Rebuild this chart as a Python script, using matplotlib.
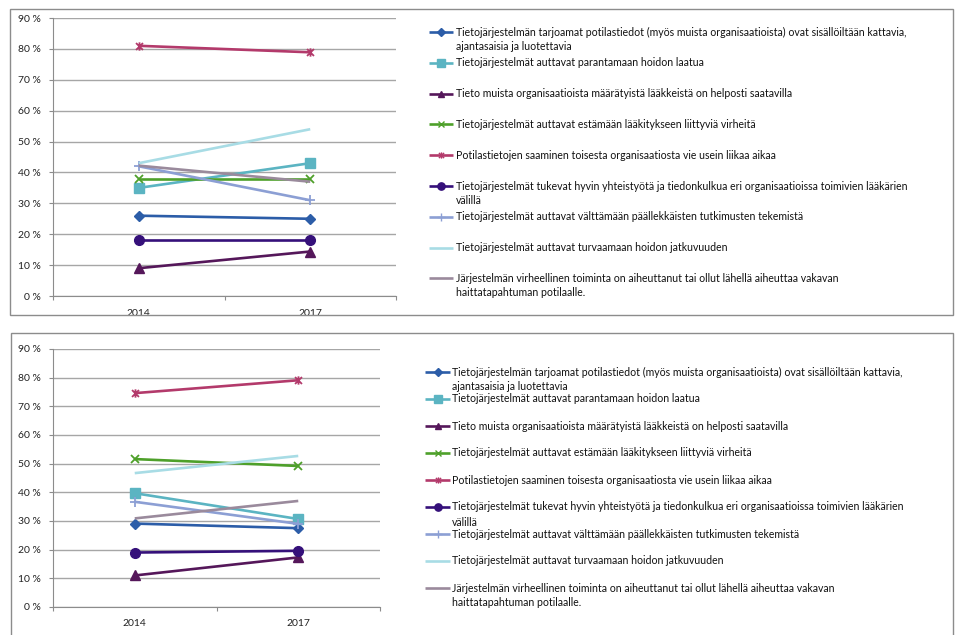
import matplotlib
matplotlib.use("Agg")
import matplotlib.pyplot as plt
from matplotlib.lines import Line2D
from matplotlib.patches import Rectangle
from matplotlib.path import Path
from matplotlib.ticker import FuncFormatter, MultipleLocator

plt.rcParams['font.family'] = ['Lato', 'DejaVu Sans']

years = ['2014', '2017']

labels = [
    "Tietojärjestelmän tarjoamat potilastiedot (myös muista organisaatioista) ovat sisällöiltään kattavia,\najantasaisia ja luotettavia",
    "Tietojärjestelmät auttavat parantamaan hoidon laatua",
    "Tieto muista organisaatioista määrätyistä lääkkeistä on helposti saatavilla",
    "Tietojärjestelmät auttavat estämään lääkitykseen liittyviä virheitä",
    "Potilastietojen saaminen toisesta organisaatiosta vie usein liikaa aikaa",
    "Tietojärjestelmät tukevat hyvin yhteistyötä ja tiedonkulkua eri organisaatioissa toimivien lääkärien\nvälillä",
    "Tietojärjestelmät auttavat välttämään päällekkäisten tutkimusten tekemistä",
    "Tietojärjestelmät auttavat turvaamaan hoidon jatkuvuuden",
    "Järjestelmän virheellinen toiminta on aiheuttanut tai ollut lähellä aiheuttaa vakavan\nhaittatapahtuman potilaalle.",
]

# values in percent, (2014, 2017)
top_values = [
    [26.0, 25.0],
    [35.0, 43.0],
    [9.0, 14.4],
    [38.0, 38.0],
    [81.0, 78.9],
    [18.0, 18.0],
    [42.0, 31.0],
    [43.0, 54.0],
    [42.2, 37.0],
]

bottom_values = [
    [29.1, 27.5],
    [39.7, 30.7],
    [11.0, 17.3],
    [51.6, 49.2],
    [74.6, 79.1],
    [19.0, 19.6],
    [36.7, 29.0],
    [46.7, 52.7],
    [30.9, 37.0],
]

colors = ['#2C5DA8', '#5BB4C2', '#55175A', '#4EA02A', '#B33A6B',
          '#35107A', '#8C9FD4', '#A8DCE5', '#9A8A9C']

# Excel style "star": x with a vertical bar
star = Path([(-1, -1), (1, 1), (-1, 1), (1, -1), (0, -1.2), (0, 1.2)],
            [Path.MOVETO, Path.LINETO, Path.MOVETO, Path.LINETO,
             Path.MOVETO, Path.LINETO])

markers = ['D', 's', '^', 'x', star, 'o', '+', None, None]
msizes = [5, 7, 6.5, 6, 6, 7, 7, 0, 0]

W, H = 959, 635
fig = plt.figure(figsize=(W / 100, H / 100), dpi=100)


def fx(px):
    return px / W


def fy(py):
    return 1 - py / H


def draw_chart(values, ax_box, frame, leg_x, leg_y0, leg_step, wrap_step):
    l, t, r, b = ax_box
    ax = fig.add_axes([fx(l), fy(b), fx(r - l), (b - t) / H])
    x = range(len(years))
    for vals, c, m, ms in zip(values, colors, markers, msizes):
        mew = 1.3 if m in ('x', '+') or m is star else 1
        ax.plot(x, [v / 100 for v in vals], color=c, lw=1.9, marker=m,
                markersize=ms, markeredgewidth=mew, markerfacecolor=c,
                markeredgecolor=c, solid_capstyle='butt')
    ax.set_xlim(-0.5, 1.5)
    ax.set_ylim(0, 0.9)
    ax.yaxis.set_major_locator(MultipleLocator(0.1))
    ax.yaxis.set_major_formatter(FuncFormatter(lambda v, p: f"{v * 100:.0f} %"))
    ax.set_xticks([-0.5, 0.5, 1.5])
    ax.set_xticklabels([])
    ax.set_xticks(list(x), minor=True)
    ax.set_xticklabels(years, minor=True)
    ax.tick_params(axis='x', which='major', length=3, color='#8C8C8C')
    ax.tick_params(axis='x', which='minor', length=0, pad=9, labelsize=7.5,
                   labelcolor='#222222')
    ax.tick_params(axis='y', length=3, color='#8C8C8C', pad=6, labelsize=7.5,
                   labelcolor='#222222')
    ax.grid(axis='y', color='#A6A6A6', lw=1)
    ax.set_axisbelow(True)
    for s in ('top', 'right'):
        ax.spines[s].set_visible(False)
    for s in ('left', 'bottom'):
        ax.spines[s].set_color('#8C8C8C')
    ax.patch.set_alpha(0)

    fl, ft, fr, fb = frame
    fig.patches.append(Rectangle((fx(fl), fy(fb)), fx(fr - fl), (fb - ft) / H,
                                 transform=fig.transFigure, fill=False,
                                 edgecolor='#8C8C8C', lw=1))

    # hand-built legend: sample line with marker in the middle
    x0, x1, xt = leg_x
    for i, (lab, c, m, ms) in enumerate(zip(labels, colors, markers, msizes)):
        y = leg_y0 + i * leg_step
        mew = 1.0 if m in ('x', '+') or m is star else 1
        fig.add_artist(Line2D([fx(x0), fx((x0 + x1) / 2), fx(x1)],
                              [fy(y)] * 3,
                              transform=fig.transFigure, color=c, lw=1.9,
                              marker=m, markevery=[1], markersize=ms * 0.75,
                              markeredgewidth=mew,
                              markerfacecolor=c, markeredgecolor=c,
                              solid_capstyle='butt'))
        for j, part in enumerate(lab.split('\n')):
            fig.text(fx(xt), fy(y + j * wrap_step), part, fontsize=7.6,
                     color='#111111', va='center', ha='left')


draw_chart(top_values, (53, 18, 396, 296), (10, 9, 953, 315),
           (429, 453, 456), 32, 30.8, 14.5)
draw_chart(bottom_values, (53, 349, 380, 607), (11, 333, 953, 645),
           (425, 450, 452), 372, 27.0, 15)

fig.savefig('out.png', dpi=100)
